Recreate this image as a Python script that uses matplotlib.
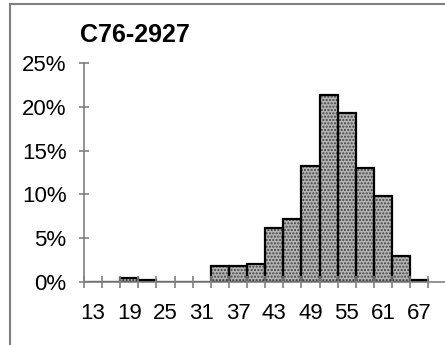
import matplotlib.pyplot as plt
from matplotlib.lines import Line2D
from matplotlib.ticker import FixedLocator, FuncFormatter
import numpy as np

plt.rcParams['font.family'] = ['Liberation Sans', 'DejaVu Sans']

# categories (bin labels), step 3
categories = [13, 16, 19, 22, 25, 28, 31, 34, 37, 40, 43, 46, 49, 52, 55, 58, 61, 64, 67]
# share per bin in percent
values = [0, 0, 0.5, 0.27, 0, 0, 0, 1.83, 1.83, 2.06, 6.18, 7.14, 13.28, 21.3,
          19.24, 13.05, 9.85, 2.98, 0.27]
shown_labels = [13, 19, 25, 31, 37, 43, 49, 55, 61, 67]
title = "C76-2927"

W, H = 445, 345
fig = plt.figure(figsize=(W / 100, H / 100), dpi=100)
ax = fig.add_axes([84 / W, (H - 282) / H, (W - 84) / W, 219 / H])

x = np.arange(len(categories))
ax.bar(x, values, width=1.0, color='#b4b4b4', edgecolor='#404040', hatch='.....',
       linewidth=0)
ax.bar(x, values, width=1.0, fill=False, edgecolor='black', linewidth=1.6)

ax.set_xlim(-0.5, 19.42)
ax.set_ylim(0, 25)

for s in ['top', 'right']:
    ax.spines[s].set_visible(False)
for s in ['left', 'bottom']:
    ax.spines[s].set_color('#808080')
    ax.spines[s].set_linewidth(1.2)

ax.set_yticks([0, 5, 10, 15, 20, 25])
ax.yaxis.set_major_formatter(FuncFormatter(lambda v, p: f"{int(v)}%"))
ax.tick_params(axis='y', direction='inout', length=7, width=1.2, color='#808080',
               labelsize=16, pad=9)

ax.xaxis.set_major_locator(FixedLocator(np.arange(len(categories) + 1) - 0.5))
ax.xaxis.set_major_formatter(FuncFormatter(lambda v, p: ""))
pos = [categories.index(c) for c in shown_labels]
ax.xaxis.set_minor_locator(FixedLocator(pos))
ax.xaxis.set_minor_formatter(FuncFormatter(lambda v, p: str(categories[int(round(v))])))
ax.tick_params(axis='x', which='major', direction='inout', length=8.5, width=1.2,
               color='#808080')
ax.tick_params(axis='x', which='minor', length=0, labelsize=16, pad=15)

fig.text(80 / W, 1 - 35 / H, title, fontsize=18, fontweight='bold', va='center')

# chart frame (cropped)
fig.add_artist(Line2D([10 / W, 1], [1 - 4 / H, 1 - 4 / H], color='#808080', linewidth=1.5))
fig.add_artist(Line2D([10 / W, 10 / W], [0, 1 - 4 / H], color='#808080', linewidth=1.5))

fig.savefig('out.png', dpi=100)
